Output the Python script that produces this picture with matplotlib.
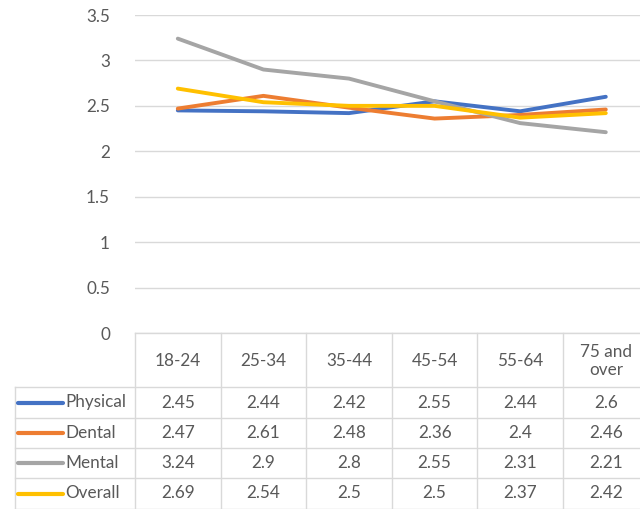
import matplotlib
matplotlib.use("Agg")
import matplotlib.pyplot as plt
from matplotlib.lines import Line2D

categories = ["18-24", "25-34", "35-44", "45-54", "55-64", "75 and\nover"]
physical = [2.45, 2.44, 2.42, 2.55, 2.44, 2.6]
dental = [2.47, 2.61, 2.48, 2.36, 2.4, 2.46]
mental = [3.24, 2.9, 2.8, 2.55, 2.31, 2.21]
overall = [2.69, 2.54, 2.5, 2.5, 2.37, 2.42]

series_names = ["Physical", "Dental", "Mental", "Overall"]
series_values = [physical, dental, mental, overall]
colors = ["#4472C4", "#ED7D31", "#A5A5A5", "#FFC000"]

yticks = [0, 0.5, 1, 1.5, 2, 2.5, 3, 3.5]
ytick_labels = ["0", "0.5", "1", "1.5", "2", "2.5", "3", "3.5"]

W, H = 640, 509
txt_color = "#595959"
grid_color = "#D9D9D9"
font = "Lato"
fs = 12.3

fig = plt.figure(figsize=(W / 100, H / 100), dpi=100)

# plot area in pixel geometry
left, top, bottom = 135, 15, 333
col_w = 85.6
right = left + col_w * len(categories)
ax = fig.add_axes([left / W, (H - bottom) / H, (right - left) / W, (bottom - top) / H])
ax.set_xlim(-0.5, len(categories) - 0.5)
ax.set_ylim(0, 3.5)
ax.set_yticks(yticks)
ax.set_yticklabels(ytick_labels, fontsize=fs, color=txt_color, family=font)
ax.tick_params(axis="y", length=0, pad=18)
ax.set_xticks([])
ax.grid(axis="y", color=grid_color, linewidth=1)
ax.set_axisbelow(True)
for s in ax.spines.values():
    s.set_visible(False)

x = list(range(len(categories)))
for vals, c in zip(series_values, colors):
    ax.plot(x, vals, color=c, linewidth=2.8, solid_capstyle="round", zorder=3)

# data table under the plot, drawn in a pixel-coordinate overlay
tab = fig.add_axes([0, 0, 1, 1], zorder=5)
tab.set_xlim(0, W)
tab.set_ylim(H, 0)
tab.axis("off")

def px_x(xv):
    disp = ax.transData.transform((xv, 0))
    return disp[0] * W / fig.bbox.width

bounds = [px_x(i - 0.5) for i in range(len(categories) + 1)]
centers = [px_x(i) for i in range(len(categories))]

header_top, header_bot = 333, 387
row_edges = [387, 418, 448, 478, 509]
leg_left = 15

lc = "#D9D9D9"
tab.plot([bounds[0], W], [header_top, header_top], color=lc, lw=1)
for yb in row_edges:
    tab.plot([leg_left, W], [yb, yb], color=lc, lw=1)
tab.plot([leg_left, leg_left], [row_edges[0], row_edges[-1]], color=lc, lw=1)
for b in bounds:
    tab.plot([b, b], [header_top, row_edges[-1]], color=lc, lw=1)

for cx, cat in zip(centers, categories):
    tab.text(cx, (header_top + header_bot) / 2 + 1, cat, ha="center", va="center",
             fontsize=fs, color=txt_color, family=font, linespacing=1.2)

for r, (name, vals, c) in enumerate(zip(series_names, series_values, colors)):
    yc = (row_edges[r] + row_edges[r + 1]) / 2
    tab.add_line(Line2D([18, 63], [yc, yc], color=c, lw=3, solid_capstyle="round"))
    tab.text(65, yc, name, ha="left", va="center", fontsize=fs, color=txt_color, family=font)
    for cx, v in zip(centers, vals):
        tab.text(cx, yc, f"{v:g}", ha="center", va="center", fontsize=fs,
                 color=txt_color, family=font)

fig.savefig("out.png", dpi=100)
